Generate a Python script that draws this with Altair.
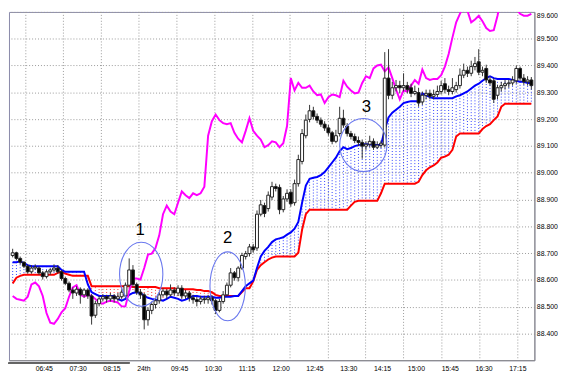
import altair as alt
import pandas as pd

# ---------------- data ----------------
bars = list(range(139))  # 5-minute bars, bar 0 = 06:15

opens = [88.691, 88.701, 88.680, 88.666, 88.651, 88.630, 88.644, 88.644, 88.626, 88.612,
         88.630, 88.637, 88.644, 88.630, 88.605, 88.587, 88.562, 88.551, 88.565, 88.544,
         88.562, 88.540, 88.468, 88.511, 88.529, 88.537, 88.529, 88.540, 88.529, 88.537,
         88.540, 88.580, 88.637, 88.583, 88.554, 88.544, 88.451, 88.486, 88.508, 88.522,
         88.544, 88.558, 88.544, 88.562, 88.551, 88.569, 88.540, 88.551, 88.533, 88.526,
         88.519, 88.529, 88.526, 88.533, 88.522, 88.486, 88.519, 88.544, 88.580, 88.626,
         88.608, 88.644, 88.687, 88.698, 88.723, 88.719, 88.845, 88.877, 88.866, 88.909,
         88.948, 88.945, 88.862, 88.902, 88.927, 88.888, 88.959, 89.042, 89.138, 89.199,
         89.231, 89.210, 89.196, 89.181, 89.167, 89.149, 89.117, 89.146, 89.203, 89.174,
         89.146, 89.135, 89.120, 89.113, 89.099, 89.106, 89.117, 89.095, 89.103, 89.103,
         89.353, 89.289, 89.317, 89.325, 89.317, 89.325, 89.317, 89.296, 89.299, 89.264,
         89.289, 89.296, 89.285, 89.292, 89.303, 89.332, 89.310, 89.303, 89.310, 89.325,
         89.364, 89.382, 89.371, 89.396, 89.414, 89.375, 89.389, 89.346, 89.343, 89.289,
         89.317, 89.325, 89.332, 89.335, 89.343, 89.389, 89.353, 89.339, 89.346]

highs = [88.716, 88.705, 88.687, 88.669, 88.658, 88.655, 88.658, 88.651, 88.633, 88.637,
         88.644, 88.658, 88.655, 88.637, 88.612, 88.594, 88.572, 88.576, 88.572, 88.569,
         88.569, 88.547, 88.522, 88.540, 88.547, 88.544, 88.551, 88.547, 88.551, 88.565,
         88.590, 88.680, 88.655, 88.590, 88.565, 88.551, 88.497, 88.519, 88.533, 88.554,
         88.569, 88.565, 88.583, 88.572, 88.580, 88.580, 88.562, 88.558, 88.544, 88.537,
         88.540, 88.540, 88.544, 88.544, 88.529, 88.529, 88.558, 88.590, 88.644, 88.633,
         88.651, 88.701, 88.708, 88.734, 88.734, 88.859, 88.898, 88.888, 88.930, 88.966,
         88.959, 88.956, 88.913, 88.938, 88.938, 88.974, 89.067, 89.163, 89.217, 89.253,
         89.246, 89.221, 89.206, 89.192, 89.178, 89.156, 89.160, 89.246, 89.235, 89.185,
         89.156, 89.146, 89.135, 89.124, 89.117, 89.138, 89.128, 89.117, 89.120, 89.450,
         89.461, 89.339, 89.346, 89.343, 89.371, 89.339, 89.332, 89.325, 89.317, 89.303,
         89.310, 89.310, 89.310, 89.325, 89.343, 89.353, 89.325, 89.353, 89.339, 89.389,
         89.407, 89.396, 89.418, 89.432, 89.461, 89.396, 89.403, 89.360, 89.353, 89.328,
         89.339, 89.346, 89.346, 89.360, 89.400, 89.396, 89.368, 89.360, 89.357]

lows = [88.684, 88.673, 88.658, 88.644, 88.623, 88.623, 88.637, 88.619, 88.601, 88.605,
        88.619, 88.630, 88.623, 88.597, 88.580, 88.554, 88.529, 88.540, 88.511, 88.533,
        88.529, 88.433, 88.458, 88.501, 88.519, 88.515, 88.519, 88.515, 88.519, 88.529,
        88.533, 88.572, 88.572, 88.544, 88.529, 88.415, 88.429, 88.472, 88.493, 88.511,
        88.537, 88.529, 88.537, 88.540, 88.540, 88.529, 88.529, 88.519, 88.511, 88.501,
        88.508, 88.511, 88.511, 88.508, 88.472, 88.479, 88.511, 88.537, 88.572, 88.597,
        88.594, 88.637, 88.676, 88.687, 88.701, 88.708, 88.837, 88.834, 88.855, 88.898,
        88.930, 88.845, 88.852, 88.891, 88.873, 88.877, 88.948, 89.031, 89.128, 89.188,
        89.199, 89.185, 89.171, 89.156, 89.138, 89.106, 89.110, 89.135, 89.167, 89.135,
        89.124, 89.110, 89.099, 89.052, 89.085, 89.095, 89.085, 89.088, 89.092, 89.095,
        89.274, 89.274, 89.303, 89.296, 89.303, 89.296, 89.282, 89.289, 89.246, 89.253,
        89.274, 89.274, 89.274, 89.282, 89.292, 89.296, 89.289, 89.292, 89.299, 89.314,
        89.353, 89.357, 89.360, 89.382, 89.364, 89.360, 89.335, 89.325, 89.260, 89.274,
        89.303, 89.310, 89.317, 89.325, 89.332, 89.343, 89.328, 89.325, 89.310]

closes = [88.701, 88.680, 88.666, 88.651, 88.630, 88.644, 88.648, 88.626, 88.612, 88.630,
          88.637, 88.644, 88.630, 88.605, 88.587, 88.562, 88.551, 88.565, 88.544, 88.562,
          88.540, 88.465, 88.511, 88.529, 88.537, 88.529, 88.540, 88.529, 88.537, 88.554,
          88.580, 88.637, 88.583, 88.554, 88.544, 88.451, 88.486, 88.508, 88.522, 88.544,
          88.558, 88.544, 88.562, 88.551, 88.569, 88.540, 88.551, 88.533, 88.526, 88.519,
          88.529, 88.526, 88.533, 88.522, 88.486, 88.519, 88.544, 88.580, 88.626, 88.608,
          88.644, 88.691, 88.698, 88.723, 88.712, 88.845, 88.880, 88.848, 88.916, 88.948,
          88.941, 88.862, 88.902, 88.923, 88.884, 88.959, 89.049, 89.146, 89.196, 89.231,
          89.210, 89.196, 89.181, 89.167, 89.149, 89.117, 89.138, 89.203, 89.178, 89.146,
          89.135, 89.120, 89.113, 89.099, 89.106, 89.117, 89.095, 89.103, 89.110, 89.353,
          89.289, 89.317, 89.325, 89.317, 89.325, 89.310, 89.296, 89.303, 89.260, 89.289,
          89.296, 89.285, 89.292, 89.303, 89.325, 89.310, 89.303, 89.317, 89.325, 89.364,
          89.382, 89.371, 89.396, 89.407, 89.375, 89.382, 89.346, 89.335, 89.274, 89.317,
          89.325, 89.332, 89.335, 89.346, 89.389, 89.353, 89.339, 89.346, 89.325]

# blue cloud boundary
span_a = [88.666, 88.666, 88.669, 88.662, 88.655, 88.651, 88.651, 88.651, 88.651, 88.651,
          88.651, 88.651, 88.651, 88.637, 88.630, 88.630, 88.630, 88.630, 88.630, 88.630,
          88.583, 88.554, 88.547, 88.540, 88.540, 88.540, 88.540, 88.540, 88.529, 88.522,
          88.529, 88.544, 88.551, 88.554, 88.551, 88.540, 88.533, 88.529, 88.526, 88.526,
          88.522, 88.529, 88.537, 88.533, 88.529, 88.522, 88.526, 88.533, 88.540, 88.540,
          88.537, 88.537, 88.537, 88.537, 88.533, 88.533, 88.537, 88.537, 88.537, 88.540,
          88.540, 88.558, 88.576, 88.587, 88.597, 88.644, 88.687, 88.708, 88.723, 88.741,
          88.751, 88.755, 88.759, 88.769, 88.777, 88.791, 88.816, 88.888, 88.952, 88.977,
          88.981, 88.984, 88.991, 89.002, 89.020, 89.038, 89.056, 89.081, 89.095, 89.088,
          89.092, 89.099, 89.103, 89.106, 89.106, 89.106, 89.103, 89.103, 89.103, 89.160,
          89.206, 89.224, 89.235, 89.246, 89.260, 89.264, 89.267, 89.267, 89.267, 89.296,
          89.289, 89.282, 89.278, 89.278, 89.278, 89.278, 89.278, 89.278, 89.285, 89.289,
          89.296, 89.303, 89.314, 89.325, 89.332, 89.343, 89.353, 89.360, 89.353, 89.350,
          89.350, 89.350, 89.350, 89.346, 89.343, 89.339, 89.339, 89.335, 89.335]

# red cloud boundary
span_b = [88.587, 88.608, 88.615, 88.619, 88.619, 88.619, 88.619, 88.619, 88.619, 88.619,
          88.619, 88.619, 88.626, 88.630, 88.623, 88.619, 88.615, 88.615, 88.615, 88.615,
          88.615, 88.576, 88.576, 88.576, 88.576, 88.576, 88.576, 88.576, 88.576, 88.576,
          88.576, 88.576, 88.573, 88.573, 88.573, 88.573, 88.573, 88.573, 88.573, 88.569,
          88.569, 88.569, 88.569, 88.569, 88.565, 88.565, 88.565, 88.565, 88.565, 88.562,
          88.562, 88.558, 88.558, 88.554, 88.544, 88.540, 88.540, 88.540, 88.540, 88.540,
          88.540, 88.554, 88.569, 88.569, 88.594, 88.637, 88.655, 88.666, 88.676, 88.683,
          88.687, 88.687, 88.687, 88.687, 88.687, 88.687, 88.701, 88.787, 88.845, 88.862,
          88.862, 88.862, 88.862, 88.862, 88.862, 88.862, 88.862, 88.862, 88.862, 88.862,
          88.877, 88.891, 88.895, 88.895, 88.895, 88.895, 88.895, 88.895, 88.923, 88.959,
          88.959, 88.959, 88.959, 88.959, 88.959, 88.959, 88.959, 88.959, 88.966, 88.991,
          89.009, 89.020, 89.027, 89.038, 89.056, 89.060, 89.067, 89.085, 89.135, 89.146,
          89.146, 89.146, 89.146, 89.146, 89.146, 89.163, 89.174, 89.181, 89.196, 89.210,
          89.246, 89.257, 89.257, 89.257, 89.257, 89.257, 89.257, 89.257, 89.257]

# magenta lagging line
chikou = [88.540, 88.529, 88.526, 88.522, 88.537, 88.583, 88.590, 88.576, 88.540, 88.476,
          88.440, 88.436, 88.454, 88.479, 88.494, 88.537, 88.572, 88.580, 88.544, 88.537,
          88.544, 88.540, 88.529, 88.515, 88.511, 88.519, 88.522, 88.519, 88.515, 88.501,
          88.501, 88.558, 88.605, 88.605, 88.601, 88.644, 88.694, 88.698, 88.719, 88.766,
          88.845, 88.877, 88.855, 88.845, 88.888, 88.930, 88.916, 88.905, 88.923, 88.916,
          88.923, 88.948, 89.138, 89.192, 89.217, 89.196, 89.185, 89.181, 89.185, 89.149,
          89.127, 89.113, 89.156, 89.203, 89.156, 89.138, 89.124, 89.095, 89.103, 89.117,
          89.113, 89.095, 89.110, 89.174, 89.353, 89.307, 89.335, 89.317, 89.317, 89.325,
          89.303, 89.289, 89.292, 89.260, 89.282, 89.292, 89.289, 89.282, 89.343, 89.321,
          89.307, 89.296, 89.299, 89.335, 89.360, 89.353, 89.389, 89.400, 89.403, 89.378,
          89.393, 89.353, 89.310, 89.274, 89.307, 89.303, 89.325, 89.346, 89.332, 89.385,
          89.353, 89.346, 89.350, 89.350, 89.364, 89.396, 89.443, 89.504, 89.561, 89.593,
          89.622, 89.604, 89.561, 89.572, 89.586, 89.565, 89.540, 89.529, 89.532, 89.586,
          89.658, 89.694, 89.676, 89.640, 89.611, 89.593, 89.586, 89.586, 89.593]

tick_bars = [6, 15, 24, 33, 42, 51, 60, 69, 78, 87, 96, 105, 114, 123, 132]
tick_labels = ["06:45", "07:30", "08:15", "24th", "09:45", "10:30", "11:15", "12:00",
               "12:45", "13:30", "14:15", "15:00", "15:45", "16:30", "17:15"]
grid_bars = [3.5, 13.5, 23.6, 33.6, 43.7, 53.8, 63.9, 73.8, 84.0, 93.9, 104.0, 114.2, 124.3, 134.4]
price_ticks = [88.4, 88.5, 88.6, 88.7, 88.8, 88.9, 89.0, 89.1, 89.2, 89.3, 89.4, 89.5, 89.6]

note_ids = ["1", "2", "3"]
note_circle_bar = [34.2, 57.2, 93.3]
note_circle_price = [88.621, 88.576, 89.103]
note_text_bar = [33.9, 57.2, 94.1]
note_text_price = [88.787, 88.755, 89.246]

# ---------------- chart ----------------
df = pd.DataFrame({"bar": bars, "o": opens, "h": highs, "l": lows, "c": closes,
                   "a": span_a, "b": span_b, "chikou": chikou})
df["dir"] = ["up" if c >= o else "down" for o, c in zip(opens, closes)]
df["cloud"] = ["up" if a >= b else "down" for a, b in zip(span_a, span_b)]

W, H = 534, 354
xs = alt.Scale(domain=[-0.98, 138.81], nice=False, zero=False, padding=0)
ys = alt.Scale(domain=[88.3, 89.6], nice=False, zero=False, padding=0)

expr = " : ".join(f"datum.value == {b} ? '{t}'" for b, t in zip(tick_bars, tick_labels)) + " : ''"
xaxis = alt.Axis(values=tick_bars, labelExpr=expr, title=None, grid=False, ticks=False,
                 domain=True, domainColor="#888888", labelAlign="left", labelBaseline="top",
                 labelPadding=4, labelFont="Liberation Sans", labelFontSize=7, labelColor="#000000",
                 labelOverlap=False, labelFlush=False)
yaxis = alt.Axis(values=price_ticks, format=".3f", orient="right", title=None, grid=True,
                 gridColor="#999999", gridDash=[1, 2], gridWidth=1, ticks=False,
                 domain=True, domainColor="#888888", labelFont="Liberation Sans",
                 labelFontSize=7, labelColor="#000000", labelPadding=2, labelFlush=True,
                 labelOverlap=False)


def X(f):
    return alt.X(f, type="quantitative", scale=xs, axis=xaxis)


def Y(f):
    return alt.Y(f, type="quantitative", scale=ys, axis=yaxis)


base = alt.Chart(df)

vgrid = alt.Chart(pd.DataFrame({"g": grid_bars})).mark_rule(
    color="#999999", strokeDash=[1, 2], strokeWidth=1).encode(x=X("g"))

cloud = base.mark_rule(strokeDash=[1, 2], strokeWidth=1, opacity=1).encode(
    x=X("bar"), y=Y("a"), y2="b",
    color=alt.Color("cloud:N", scale=alt.Scale(domain=["up", "down"], range=["#3040ff", "#ff3030"]),
                    legend=None))

red = base.mark_line(color="#ff0000", strokeWidth=2).encode(x=X("bar"), y=Y("b"))
blue = base.mark_line(color="#0000ff", strokeWidth=2).encode(x=X("bar"), y=Y("a"))
mag = base.mark_line(color="#ff00ff", strokeWidth=2, clip=True).encode(x=X("bar"), y=Y("chikou"))

wick = base.mark_rule(color="#333333", strokeWidth=1).encode(x=X("bar"), y=Y("l"), y2="h")
body = base.mark_bar(size=3, stroke="#222222", strokeWidth=1).encode(
    x=X("bar"), y=Y("o"), y2="c",
    fill=alt.Fill("dir:N", scale=alt.Scale(domain=["up", "down"], range=["#ffffff", "#000000"]),
                  legend=None))

ratios = [22 / 32.5, 18 / 35, 24 / 27]
paths = [f"M-{r:.3f},0A{r:.3f},1,0,1,0,{r:.3f},0A{r:.3f},1,0,1,0,-{r:.3f},0Z" for r in ratios]
circ_df = pd.DataFrame({"id": note_ids, "bar": note_circle_bar, "price": note_circle_price,
                        "sz": [4225, 4900, 2916]})
circles = alt.Chart(circ_df).mark_point(filled=False, color="#6a78ee", strokeWidth=1.1, opacity=1).encode(
    x=X("bar"), y=Y("price"),
    shape=alt.Shape("id:N", scale=alt.Scale(domain=note_ids, range=paths), legend=None),
    size=alt.Size("sz:Q", scale=None, legend=None))

txt_df = pd.DataFrame({"id": note_ids, "bar": note_text_bar, "price": note_text_price})
texts = alt.Chart(txt_df).mark_text(font="Liberation Sans", fontSize=17, color="#000000",
                                    align="center", baseline="middle").encode(
    x=X("bar"), y=Y("price"), text="id:N")

scroll = alt.Chart(df).mark_rule(color="#666666", strokeWidth=1).encode(
    x=alt.value(0), x2=alt.value(122), y=alt.value(H + 3))

chart = alt.layer(vgrid, cloud, red, blue, mag, wick, body, circles, texts, scroll).properties(
    width=W, height=H, padding=0, background="#ffffff"
).configure_view(stroke="#8888a8", strokeWidth=1)

chart.save("out.html", embed_options={"renderer": "svg", "actions": False})
